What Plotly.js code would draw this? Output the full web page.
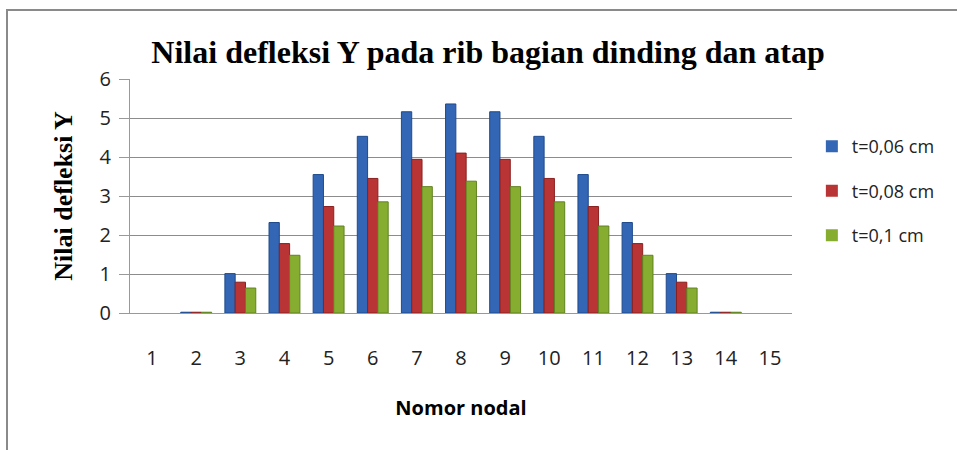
<!DOCTYPE html>
<html>
<head>
<meta charset="utf-8">
<script src="https://cdn.plot.ly/plotly-3.0.1.min.js"></script>
<style>
html,body{margin:0;padding:0;background:#fff;overflow:hidden;}
#chart{position:absolute;left:0;top:0;width:957px;height:450px;}
#frame{position:absolute;left:6px;top:9px;width:1000px;height:500px;border:2px solid #8a8a8a;pointer-events:none;}
</style>
</head>
<body>
<div id="chart"></div>
<div id="frame"></div>
<script>
const categories = ['1','2','3','4','5','6','7','8','9','10','11','12','13','14','15'];
const seriesNames = ['t=0,06 cm','t=0,08 cm','t=0,1 cm'];
const t006 = [0, 0.02, 1.01, 2.32, 3.55, 4.53, 5.16, 5.36, 5.16, 4.53, 3.55, 2.32, 1.01, 0.02, 0];
const t008 = [0, 0.02, 0.79, 1.78, 2.73, 3.45, 3.94, 4.10, 3.94, 3.45, 2.73, 1.78, 0.79, 0.02, 0];
const t010 = [0, 0.02, 0.64, 1.48, 2.23, 2.85, 3.24, 3.38, 3.24, 2.85, 2.23, 1.48, 0.64, 0.02, 0];
const yTicks = [0,1,2,3,4,5,6];

const fills = ['#3366b5','#b93434','#87ad30'];
const edges = ['#1f4a8c','#8a2020','#5f8220'];
const vals = [t006, t008, t010];

const traces = vals.map((v,i)=>({
  type:'bar', x:categories, y:v, name:seriesNames[i],
  legendgroup:'g'+i,
  marker:{color:fills[i], line:{color:edges[i], width:v.map(d => d > 0 ? 1 : 0)}},
  hoverinfo:'none'
}));

const tickFont = {size:20, color:'#222', family:'Open Sans, sans-serif'};

const layout = {
  width:957, height:450,
  paper_bgcolor:'#fff', plot_bgcolor:'#fff',
  margin:{l:130, r:165, t:79, b:137},
  barmode:'group', bargap:0.3, bargroupgap:0,
  font:{family:'Open Sans, Liberation Sans, sans-serif', color:'#222'},
  title:{text:'Nilai defleksi Y pada rib bagian dinding dan atap',
    font:{family:'Liberation Serif, DejaVu Serif, serif', size:32, color:'#000', weight:'bold'},
    x:0.51, xref:'container', y:0.885, yref:'container', xanchor:'center', yanchor:'middle'},
  xaxis:{type:'category', tickvals:categories, ticktext:categories,
    showgrid:false, showline:true, linecolor:'#999', linewidth:1,
    ticks:'', ticklabelstandoff:27,
    tickfont:tickFont,
    title:{text:'Nomor nodal', font:{size:20, color:'#000', weight:'bold', family:'Open Sans, sans-serif'}, standoff:30},
    fixedrange:true},
  yaxis:{range:[0,6], tickvals:yTicks, ticktext:yTicks.map(String),
    showgrid:true, gridcolor:'#8c8c8c', gridwidth:1,
    showline:true, linecolor:'#999', linewidth:1,
    ticks:'outside', ticklen:10, tickcolor:'#999', ticklabelstandoff:4,
    zeroline:false,
    tickfont:tickFont,
    title:{text:'Nilai defleksi Y', font:{family:'Liberation Serif, serif', size:26, color:'#000', weight:'bold'}, standoff:19},
    fixedrange:true},
  showlegend:true,
  legend:{x:1.03, y:0.79, xanchor:'left', yanchor:'top', traceorder:'grouped', tracegroupgap:18,
    font:{size:18, color:'#222', family:'Open Sans, sans-serif'}, bgcolor:'rgba(0,0,0,0)'}
};

Plotly.newPlot('chart', traces, layout, {displayModeBar:false, staticPlot:true});
</script>
</body>
</html>
